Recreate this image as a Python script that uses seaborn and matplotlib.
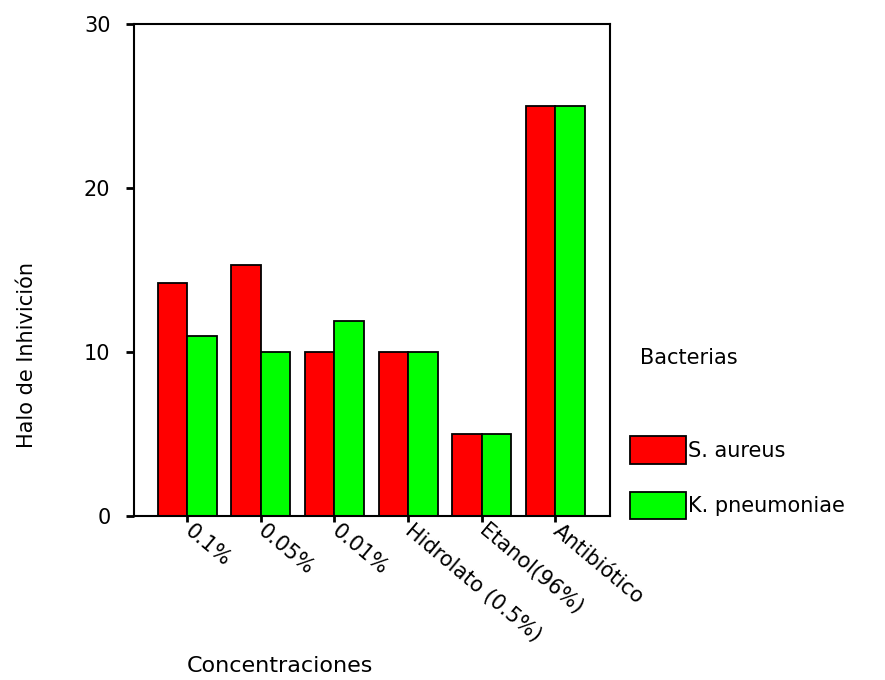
import matplotlib
matplotlib.use("Agg")
import matplotlib.pyplot as plt
import seaborn as sns
import pandas as pd

categories = ["0.1%", "0.05%", "0.01%", "Hidrolato (0.5%)", "Etanol(96%)", "Antibiótico"]
s_aureus = [14.2, 15.3, 10.0, 10.0, 5.0, 25.0]
k_pneumoniae = [11.0, 10.0, 11.9, 10.0, 5.0, 25.0]
series = ["S. aureus", "K. pneumoniae"]
colors = ["#FF0000", "#00FF00"]

df = pd.DataFrame({
    "Concentraciones": categories * 2,
    "Halo": s_aureus + k_pneumoniae,
    "Bacterias": [series[0]] * len(categories) + [series[1]] * len(categories),
})

sns.set_theme(style="white")
plt.rcParams["font.family"] = ["DejaVu Sans"]
FS = 15

fig = plt.figure(figsize=(8.85, 6.8), dpi=100)
ax = fig.add_axes([134/885, 1-516/680, (610-134)/885, (516-24)/680])

sns.barplot(data=df, x="Concentraciones", y="Halo", hue="Bacterias",
            order=categories, hue_order=series, palette=colors, saturation=1,
            edgecolor="black", linewidth=1.3, width=0.8, ax=ax, errorbar=None)

ax.set_ylim(0, 30)
ax.set_xlim(-0.72, len(categories) - 1 + 0.74)
ax.set_yticks([0, 10, 20, 30])
ax.tick_params(axis="y", direction="out", length=6, width=2, labelsize=FS, pad=11, color="black", labelcolor="black", left=True)
ax.tick_params(axis="x", direction="out", length=4, width=2, labelsize=FS, pad=5, color="black", labelcolor="black", bottom=True)
for lab in ax.get_xticklabels():
    lab.set_rotation(-40)
    lab.set_ha("left")
    lab.set_va("center")
    lab.set_rotation_mode("anchor")
for sp in ax.spines.values():
    sp.set_visible(True)
    sp.set_color("black")
    sp.set_linewidth(1.5)

ax.set_ylabel("Halo de Inhivición", fontsize=FS, color="black")
ax.set_xlabel("Concentraciones", fontsize=FS + 1, color="black")
ax.yaxis.set_label_coords(-0.225, (516-355)/492)
ax.yaxis.label.set_va("center")
ax.xaxis.set_label_coords((280-134)/476, -(666-516)/492)
ax.xaxis.label.set_va("center")

handles, labels = ax.get_legend_handles_labels()
ax.get_legend().remove()
fig.text(640/885, 1-358/680, "Bacterias", fontsize=FS, va="center", ha="left", color="black")
leg = fig.legend(handles, labels, loc="upper left", bbox_to_anchor=(622/885, 1-428/680),
                 frameon=False, fontsize=FS, handlelength=2.65, handleheight=1.65,
                 labelspacing=1.35, handletextpad=0.1, borderaxespad=0)
for t in leg.get_texts():
    t.set_color("black")

fig.savefig("out.png", dpi=100)
